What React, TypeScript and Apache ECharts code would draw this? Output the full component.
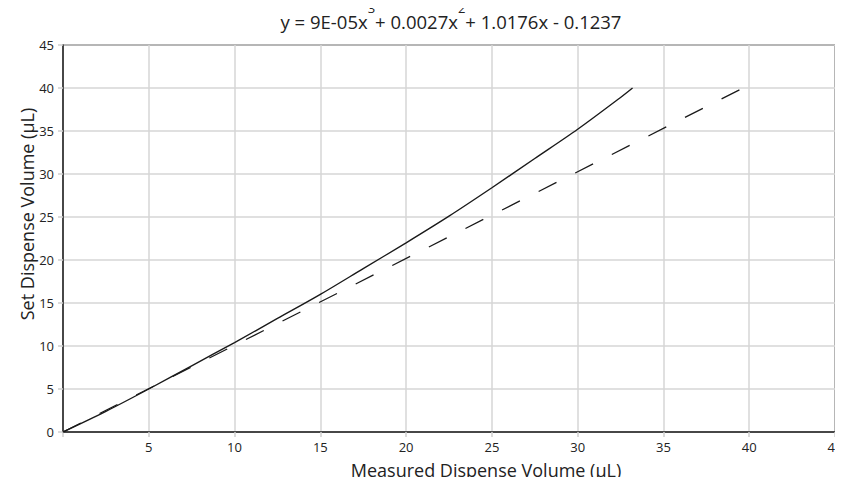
import React, { useEffect, useRef } from "react";
import * as echarts from "echarts";

const fitX = [0, 2.5, 5, 7.5, 10, 12.5, 15, 17.5, 20, 22.5, 25, 27.5, 30, 32.5, 33.2];
const fitY = [0, 2.4, 5.0, 7.7, 10.4, 13.2, 16.0, 19.0, 22.0, 25.1, 28.4, 31.8, 35.2, 38.9, 40.0];
const refX = [0, 39.75];
const refY = [0, 40.1];
const xTicks = [0, 5, 10, 15, 20, 25, 30, 35, 40, 45];
const yTicks = [0, 5, 10, 15, 20, 25, 30, 35, 40, 45];

const FONT = "'Open Sans', 'Noto Sans', sans-serif";
const EXTRA = 8;

export default function App() {
  const ref = useRef<HTMLDivElement>(null);
  useEffect(() => {
    if (!ref.current) return;
    const chart = echarts.init(ref.current, null, { renderer: "svg" });
    const axisCommon = {
      type: "value" as const,
      min: xTicks[0],
      max: xTicks[xTicks.length - 1],
      interval: 5,
      axisLine: { show: true, onZero: false, lineStyle: { color: "#222", width: 1.5 } },
      axisTick: { show: true, length: 5, lineStyle: { color: "#cfcfcf", width: 1.5 } },
      splitLine: { show: true, lineStyle: { color: "#d6d6d6", width: 1.5 } },
    };
    chart.setOption({
      animation: false,
      backgroundColor: "#fff",
      title: {
        text: "{a|y = 9E-05x}{s|3}{a|+ 0.0027x}{s|2}{a|+ 1.0176x - 0.1237}",
        left: 451,
        textAlign: "center",
        top: 1,
        padding: 0,
        textStyle: {
          fontWeight: "normal",
          rich: {
            a: { fontFamily: FONT, fontSize: 18.5, fontWeight: "normal", color: "#222", lineHeight: 30, verticalAlign: "bottom" },
            s: { fontFamily: FONT, fontSize: 13, fontWeight: "normal", color: "#222", lineHeight: 8, verticalAlign: "top" },
          },
        },
      },
      grid: { left: 63, right: 8 + EXTRA, top: 45, bottom: 53, show: true, borderColor: "#222", borderWidth: 1.5, backgroundColor: "transparent" },
      xAxis: {
        ...axisCommon,
        axisLabel: {
          margin: 8,
          fontFamily: FONT,
          fontSize: 13,
          color: "#222",
          formatter: (v: number) => (v === 0 ? "" : String(v)),
        },
      },
      yAxis: {
        ...axisCommon,
        min: yTicks[0],
        max: yTicks[yTicks.length - 1],
        axisLabel: { margin: 9, fontFamily: FONT, fontSize: 13, color: "#222" },
      },
      graphic: [
        {
          type: "text",
          x: 486,
          y: 470,
          style: {
            text: "Measured Dispense Volume (µL)",
            fontFamily: FONT,
            fontSize: 18,
            fill: "#222",
            align: "center",
            verticalAlign: "middle",
          },
        },
        {
          type: "text",
          x: 27,
          y: 214,
          rotation: Math.PI / 2,
          style: {
            text: "Set Dispense Volume (µL)",
            fontFamily: FONT,
            fontSize: 18,
            fill: "#222",
            align: "center",
            verticalAlign: "middle",
          },
        },
      ],
      series: [
        {
          type: "line",
          data: fitX.map((x, i) => [x, fitY[i]]),
          smooth: 0.3,
          showSymbol: false,
          lineStyle: { color: "#1a1a1a", width: 1.4 },
          z: 3,
        },
        {
          type: "line",
          data: refX.map((x, i) => [x, refY[i]]),
          showSymbol: false,
          lineStyle: { color: "#1a1a1a", width: 1.3, type: [20, 21] },
          z: 3,
        },
      ],
    });
    return () => chart.dispose();
  }, []);
  return (
    <div style={{ width: 843, height: 485, margin: -8, overflow: "hidden", position: "relative" }}>
      <div ref={ref} style={{ width: 843 + EXTRA, height: 485 }} />
    </div>
  );
}
